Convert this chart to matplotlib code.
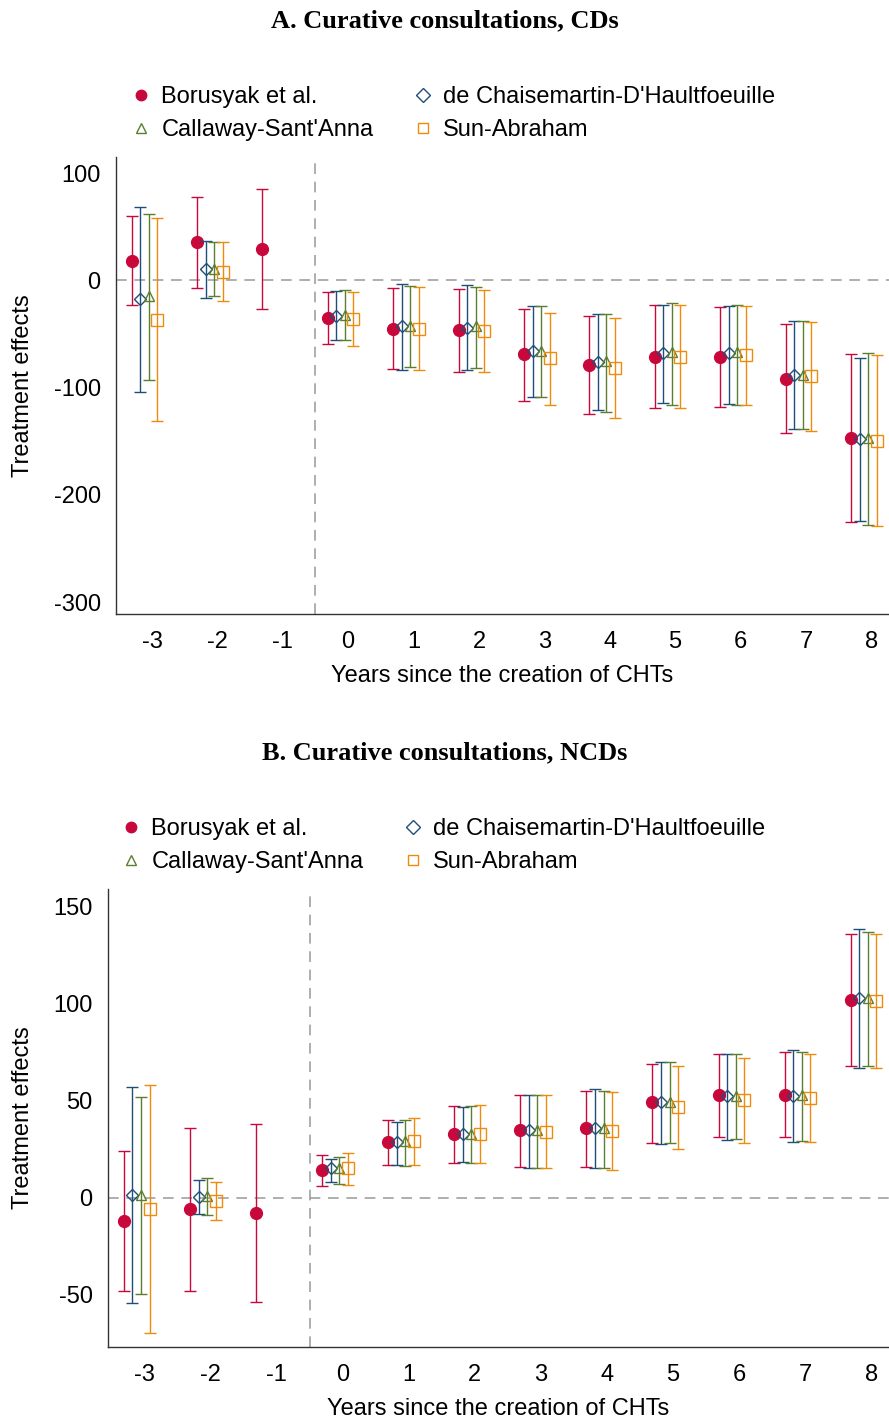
import matplotlib
matplotlib.use('Agg')
import matplotlib.pyplot as plt
from matplotlib.lines import Line2D
import numpy as np

plt.rcParams['font.family'] = ['Liberation Sans', 'DejaVu Sans']
plt.rcParams['axes.unicode_minus'] = False

nan = np.nan
years = [-3, -2, -1, 0, 1, 2, 3, 4, 5, 6, 7, 8]
methods = ['Borusyak et al.', 'de Chaisemartin-D\'Haultfoeuille', 'Callaway-Sant\'Anna', 'Sun-Abraham']

# Panel A: curative consultations, CDs
cd_bor_est = [18, 36, 29, -35, -45, -46, -69, -79, -71, -71, -92, -147]
cd_bor_lo = [-23, -7, -27, -59, -83, -85, -112, -125, -119, -118, -142, -225]
cd_bor_hi = [60, 78, 85, -11, -7, -8, -27, -33, -23, -25, -41, -69]
cd_dch_est = [-17, 11, nan, -33, -43, -44, -66, -76, -68, -68, -88, -148]
cd_dch_lo = [-104, -16, nan, -56, -84, -84, -109, -121, -114, -115, -139, -224]
cd_dch_hi = [68, 37, nan, -10, -3, -4, -24, -31, -23, -24, -38, -72]
cd_cs_est = [-15, 11, nan, -32, -43, -43, -66, -75, -67, -67, -88, -147]
cd_cs_lo = [-93, -15, nan, -56, -81, -82, -109, -123, -116, -116, -139, -228]
cd_cs_hi = [62, 36, nan, -9, -5, -6, -24, -31, -21, -23, -38, -68]
cd_sa_est = [-37, 8, nan, -36, -45, -47, -72, -82, -71, -70, -89, -150]
cd_sa_lo = [-131, -19, nan, -61, -84, -85, -116, -128, -119, -116, -140, -229]
cd_sa_hi = [58, 36, nan, -11, -6, -9, -30, -35, -23, -24, -39, -70]

# Panel B: curative consultations, NCDs
ncd_bor_est = [-12, -6, -8, 14, 28.5, 33, 35, 36, 49, 53, 53, 102]
ncd_bor_lo = [-48, -48, -54, 6, 17, 18, 16, 16, 28, 31, 31, 68]
ncd_bor_hi = [24, 36, 38, 22, 40, 47, 53, 55, 69, 74, 75, 136]
ncd_dch_est = [1.5, 0.5, nan, 15, 28.5, 32.5, 35, 36, 49, 52.5, 52.5, 103]
ncd_dch_lo = [-54.5, -8.5, nan, 8, 17, 18.5, 15, 15, 27.5, 29.5, 28.5, 67]
ncd_dch_hi = [57, 9, nan, 20, 39, 46.5, 53, 56, 70, 74, 76, 138.5]
ncd_cs_est = [1.5, 1, nan, 15, 29, 33, 35, 36, 49.5, 52.5, 53, 103]
ncd_cs_lo = [-49.5, -9, nan, 7, 16.5, 18, 15, 15, 28, 30, 29, 68]
ncd_cs_hi = [52, 10, nan, 21, 40, 47, 53, 55, 70, 74, 75, 137]
ncd_sa_est = [-6, -2, nan, 15, 29, 32.5, 34, 34.5, 46.5, 50.5, 51.5, 101.5]
ncd_sa_lo = [-70, -11.5, nan, 6.5, 17, 18, 15, 14, 25, 28, 28.5, 67]
ncd_sa_hi = [58, 8, nan, 23, 41, 47.5, 53, 54.5, 68, 72, 74, 136]

COLORS = ['#C8073A', '#1F4E79', '#5B7F2E', '#EE8A0C']
MARKERS = ['o', 'D', '^', 's']
MSIZE = [8.5, 6.5, 7.5, 8]
OFFSETS = [-0.31, -0.18, -0.05, 0.08]
FS = 17


def draw_panel(ax, series, ylim, yticks):
    x = np.array(years, dtype=float)
    ax.axhline(0, color='#999999', lw=1.1, ls=(0, (7, 5)), zorder=1)
    ax.axvline(-0.5, color='#999999', lw=1.1, ls=(0, (7, 5)), zorder=1)
    for i, (est, lo, hi) in enumerate(series):
        est = np.array(est, dtype=float)
        lo = np.array(lo, dtype=float)
        hi = np.array(hi, dtype=float)
        face = COLORS[i] if i == 0 else 'none'
        ax.errorbar(x + OFFSETS[i], est, yerr=[est - lo, hi - est], fmt=MARKERS[i],
                    color=COLORS[i], ecolor=COLORS[i], mfc=face, mec=COLORS[i],
                    ms=MSIZE[i], mew=1.0, elinewidth=1.0, capsize=4, capthick=1.0,
                    zorder=3 + i)
    ax.set_xlim(-3.55, 8.27)
    ax.set_ylim(*ylim)
    ax.set_xticks(years)
    ax.set_yticks(yticks)
    ax.tick_params(length=0, labelsize=FS)
    ax.tick_params(axis='y', pad=11)
    ax.tick_params(axis='x', pad=12)
    for s in ['top', 'right']:
        ax.spines[s].set_visible(False)
    for s in ['left', 'bottom']:
        ax.spines[s].set_color('#333333')
        ax.spines[s].set_linewidth(1.0)
    ax.set_ylabel('Treatment effects', fontsize=FS, labelpad=14)
    ax.set_xlabel('Years since the creation of CHTs', fontsize=FS, labelpad=9)


def add_legend(fig, x0, y0):
    handles = []
    for i in range(4):
        face = COLORS[i] if i == 0 else 'none'
        handles.append(Line2D([], [], ls='none', marker=MARKERS[i], color=COLORS[i],
                              mfc=face, mec=COLORS[i], ms=[7.5, 7, 7.5, 7.5][i], mew=1.0))
    order = [0, 2, 1, 3]
    fig.legend([handles[k] for k in order], [methods[k] for k in order],
               loc='upper left', bbox_to_anchor=(x0 / 889, 1 - y0 / 1421),
               ncol=2, frameon=False, fontsize=FS, borderpad=0,
               handlelength=0.8, handletextpad=0.45, columnspacing=1.68,
               labelspacing=0.48)


fig = plt.figure(figsize=(8.89, 14.21), dpi=100)

axA = fig.add_axes([116 / 889, 1 - 614 / 1421, 773 / 889, 457 / 1421])
draw_panel(axA, [(cd_bor_est, cd_bor_lo, cd_bor_hi),
                 (cd_dch_est, cd_dch_lo, cd_dch_hi),
                 (cd_cs_est, cd_cs_lo, cd_cs_hi),
                 (cd_sa_est, cd_sa_lo, cd_sa_hi)],
           (-311, 115), [100, 0, -100, -200, -300])

axB = fig.add_axes([108 / 889, 1 - 1347 / 1421, 781 / 889, 458 / 1421])
draw_panel(axB, [(ncd_bor_est, ncd_bor_lo, ncd_bor_hi),
                 (ncd_dch_est, ncd_dch_lo, ncd_dch_hi),
                 (ncd_cs_est, ncd_cs_lo, ncd_cs_hi),
                 (ncd_sa_est, ncd_sa_lo, ncd_sa_hi)],
           (-77, 159), [150, 100, 50, 0, -50])

fig.text(445 / 889, 1 - 21 / 1421, 'A. Curative consultations, CDs', ha='center', va='center',
         fontsize=19, fontweight='bold', family='Liberation Serif')
fig.text(445 / 889, 1 - 753 / 1421, 'B. Curative consultations, NCDs', ha='center', va='center',
         fontsize=19, fontweight='bold', family='Liberation Serif')

add_legend(fig, 120, 74)
add_legend(fig, 110, 806)

fig.savefig('out.png', dpi=100)
